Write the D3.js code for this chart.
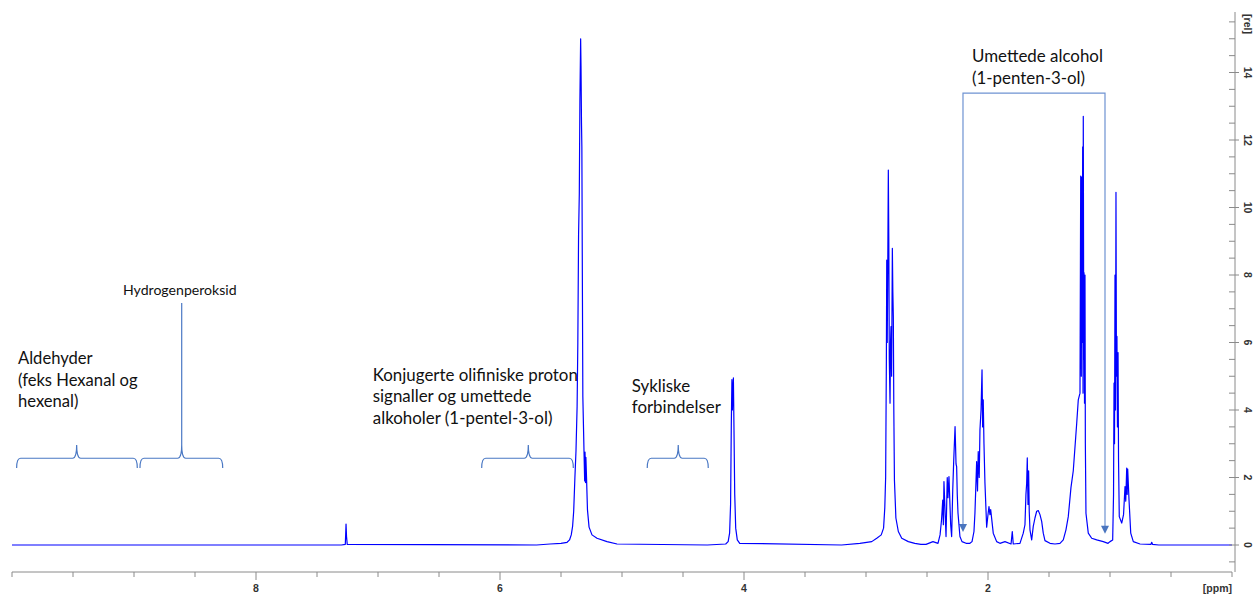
<!DOCTYPE html>
<html>
<head>
<meta charset="utf-8">
<title>1H NMR</title>
<style>
body{margin:0;background:#fff}
svg{display:block}
.ann{font-family:Lato, "Open Sans", sans-serif;fill:#111}
.tick{font-family:"Liberation Sans", Arial, sans-serif;font-weight:bold;font-size:10.5px;fill:#333}
</style>
</head>
<body>
<script src="https://cdn.jsdelivr.net/npm/d3@7"></script>
<script>
// spectrum, traced as [ppm, rel] pairs
var baseline = [[10, 0], [7.4, 0], [5.7, 0], [4.3, 0], [3.2, 0], [2.55, 0.02], [0.6, 0], [0, 0]]
var peakCHCl3 = [[7.30, 0], [7.268, 0.02], [7.265, 0.3], [7.262, 0.62], [7.258, 0.25], [7.252, 0.02]]
var peak53 = [[5.59, 0.03], [5.50, 0.05], [5.45, 0.08], [5.43, 0.15], [5.416, 0.3], [5.405, 0.55],
  [5.396, 1.0], [5.386, 2.0], [5.377, 2.8], [5.368, 4.1], [5.362, 6.0], [5.356, 9.2], [5.350, 10.4],
  [5.345, 13.2], [5.339, 15.0], [5.336, 14.2], [5.332, 12.5], [5.329, 11.8], [5.325, 8.0], [5.321, 4.4],
  [5.311, 2.7], [5.306, 1.9], [5.303, 2.75], [5.299, 1.85], [5.296, 2.6], [5.29, 1.9], [5.283, 1.04],
  [5.27, 0.53], [5.246, 0.3], [5.205, 0.2], [5.123, 0.1], [5.041, 0.03]]
var peak41 = [[4.15, 0.03], [4.13, 0.1], [4.118, 0.35], [4.11, 1.2], [4.104, 3.6], [4.099, 4.9],
  [4.095, 4.0], [4.091, 4.6], [4.087, 4.95], [4.082, 3.4], [4.076, 1.5], [4.068, 0.5], [4.055, 0.15], [4.035, 0.05]]
var peak28 = [[3.05, 0.05], [2.953, 0.1], [2.912, 0.2], [2.875, 0.3], [2.856, 0.5], [2.846, 1.1],
  [2.839, 2.0], [2.833, 5.5], [2.830, 8.44], [2.826, 6.0], [2.822, 8.0], [2.817, 11.11], [2.813, 9.0],
  [2.809, 5.5], [2.803, 4.2], [2.799, 6.0], [2.795, 6.47], [2.790, 5.0], [2.784, 8.79], [2.780, 7.5],
  [2.776, 6.76], [2.772, 4.0], [2.767, 1.93], [2.755, 0.8], [2.735, 0.4], [2.707, 0.2], [2.653, 0.1], [2.60, 0.05]]
var peak23 = [[2.508, 0.02], [2.451, 0.1], [2.41, 0.05], [2.393, 0.3], [2.381, 0.74], [2.371, 1.33],
  [2.366, 0.6], [2.361, 1.88], [2.350, 0.8], [2.344, 0.25], [2.334, 2.0], [2.328, 1.4], [2.320, 2.03],
  [2.306, 0.6], [2.298, 0.25], [2.289, 1.63], [2.281, 2.5], [2.270, 3.51], [2.262, 2.4], [2.257, 2.32],
  [2.252, 1.5], [2.246, 0.95], [2.238, 0.6], [2.230, 0.25], [2.213, 0.1], [2.18, 0.05], [2.148, 0.05],
  [2.131, 0.1], [2.115, 0.4], [2.107, 0.95], [2.093, 2.47], [2.086, 1.6], [2.080, 2.77], [2.072, 2.0],
  [2.066, 3.41], [2.057, 4.0], [2.049, 5.19], [2.044, 3.5], [2.039, 4.3], [2.033, 3.0], [2.025, 1.84],
  [2.011, 0.53], [2.0, 0.9], [1.992, 1.14], [1.984, 0.9], [1.978, 1.05], [1.957, 0.35], [1.929, 0.1],
  [1.902, 0.05], [1.861, 0.1], [1.811, 0.03], [1.801, 0.4], [1.793, 0.03], [1.738, 0.05]]
var peak16 = [[1.711, 0.35], [1.697, 0.6], [1.689, 1.5], [1.683, 1.83], [1.678, 2.58], [1.672, 1.2],
  [1.667, 2.2], [1.662, 1.0], [1.656, 0.45], [1.642, 0.15], [1.629, 0.55], [1.615, 0.8], [1.601, 1.0],
  [1.588, 1.02], [1.574, 0.9], [1.560, 0.7], [1.547, 0.35], [1.533, 0.13], [1.492, 0.05], [1.451, 0.03]]
var peak12 = [[1.41, 0.05], [1.383, 0.15], [1.361, 0.45], [1.342, 0.84], [1.320, 1.7], [1.301, 2.2],
  [1.281, 3.2], [1.273, 3.6], [1.260, 4.3], [1.246, 4.5], [1.240, 10.93], [1.235, 5.0], [1.232, 10.9],
  [1.228, 6.0], [1.224, 11.8], [1.221, 4.5], [1.219, 12.7], [1.215, 5.5], [1.213, 8.07], [1.209, 4.2],
  [1.205, 8.0], [1.202, 3.0], [1.197, 0.94], [1.178, 0.35], [1.150, 0.2], [1.109, 0.15], [1.055, 0.1],
  [1.016, 0.05], [1.0, 0.1], [0.978, 0.15], [0.971, 1.5], [0.967, 4.8], [0.963, 3.0], [0.959, 8.0],
  [0.955, 4.0], [0.951, 10.45], [0.947, 5.0], [0.943, 6.18], [0.939, 3.5], [0.934, 5.7], [0.930, 2.52],
  [0.924, 0.84], [0.904, 0.65], [0.889, 0.9], [0.877, 1.73], [0.871, 1.3], [0.863, 2.28], [0.859, 1.5],
  [0.855, 2.25], [0.844, 1.33], [0.830, 0.35], [0.809, 0.1], [0.754, 0.03], [0.664, 0.02], [0.658, 0.08], [0.652, 0.02]]

var xMajor = [10, 8, 6, 4, 2, 0]
var xLabels = [8, 6, 4, 2]
var yMajor = [0, 2, 4, 6, 8, 10, 12, 14]

// annotations in [ppm, rel]
var braces = [
  {l: 9.962, r: 8.973, c: 9.47},
  {l: 8.951, r: 8.273, c: 8.609, stem: 7.17},
  {l: 6.150, r: 5.399, c: 5.768},
  {l: 4.793, r: 4.293, c: 4.539}
]
var labels = [
  {x: 9.951, y: 5.354, lines: ["Aldehyder", "(feks Hexanal og", "hexenal)"], size: 16.6},
  {x: 9.09, y: 7.41, lines: ["Hydrogenperoksid"], size: 14.1},
  {x: 7.043, y: 4.87, lines: ["Konjugerte olifiniske proton", "signaller og umettede", "alkoholer (1-pentel-3-ol)"], size: 16.9},
  {x: 4.92, y: 4.54, lines: ["Sykliske", "forbindelser"], size: 16.9},
  {x: 2.131, y: 14.31, lines: ["Umettede alcohol", "(1-penten-3-ol)"], size: 16.9}
]
var box = {l: 2.205, r: 1.041, top: 13.39, tipL: 0.385, tipR: 0.33}

var W = 1254, H = 595
var x = d3.scaleLinear().domain([10, 0]).range([12, 1232])
var y = d3.scaleLinear().domain([0, 14]).range([545, 72.5])

var svg = d3.select('body').append('svg').attr('width', W).attr('height', H)

var spectrum = [].concat(baseline, peakCHCl3, peak53, peak41, peak28, peak23, peak16, peak12)
  .sort(function(a, b){ return b[0] - a[0] })

// annotation graphics (under the spectrum)
var yH = y(2.57), yEnd = y(2.28), yTip = y(2.96)
braces.forEach(function(b){
  var xl = x(b.l), xr = x(b.r), xc = x(b.c), r = 4
  var p = 'M' + xl + ',' + yEnd + 'Q' + xl + ',' + yH + ' ' + (xl + r) + ',' + yH +
    'L' + (xc - r) + ',' + yH + 'Q' + xc + ',' + yH + ' ' + xc + ',' + yTip +
    'Q' + xc + ',' + yH + ' ' + (xc + r) + ',' + yH +
    'L' + (xr - r) + ',' + yH + 'Q' + xr + ',' + yH + ' ' + xr + ',' + yEnd
  svg.append('path').attr('d', p).attr('fill', 'none').attr('stroke', '#4a78c4').attr('stroke-width', 1.2)
  if(b.stem) svg.append('line').attr('x1', xc).attr('x2', xc).attr('y1', yTip).attr('y2', y(b.stem))
    .attr('stroke', '#4a78c4').attr('stroke-width', 1.2)
})

svg.append('path')
  .attr('d', 'M' + x(box.l) + ',' + (y(box.tipL) - 7) + 'V' + y(box.top) + 'H' + x(box.r) + 'V' + (y(box.tipR) - 7))
  .attr('fill', 'none').attr('stroke', '#6f93d2').attr('stroke-width', 1.2)
;[[box.l, box.tipL], [box.r, box.tipR]].forEach(function(t){
  var tx = x(t[0]), ty = y(t[1])
  svg.append('path').attr('d', 'M' + (tx - 4) + ',' + (ty - 8) + 'L' + (tx + 4) + ',' + (ty - 8) + 'L' + tx + ',' + ty + 'Z')
    .attr('fill', '#4a75bf')
})

svg.append('path')
  .datum(spectrum)
  .attr('d', d3.line().x(function(d){ return x(d[0]) }).y(function(d){ return y(d[1]) }))
  .attr('fill', 'none').attr('stroke', '#0000ff').attr('stroke-width', 1.2).attr('stroke-linejoin', 'round')

labels.forEach(function(a){
  var t = svg.append('text').attr('class', 'ann').attr('font-size', a.size)
  a.lines.forEach(function(s, i){
    t.append('tspan').attr('x', x(a.x)).attr('y', y(a.y) + i * 21.5).text(s)
  })
})

// x axis
var axisY = 572, axisC = '#8a8a8a'
svg.append('line').attr('x1', x(10)).attr('x2', x(0)).attr('y1', axisY).attr('y2', axisY).attr('stroke', axisC)
d3.range(0, 10.01, 0.5).forEach(function(v){
  var major = xMajor.indexOf(v) >= 0 && v != 10 && v != 0
  svg.append('line').attr('x1', x(v)).attr('x2', x(v)).attr('y1', axisY).attr('y2', axisY + (major ? 8 : 5))
    .attr('stroke', axisC)
})
xLabels.forEach(function(v){
  svg.append('text').attr('class', 'tick').attr('x', x(v)).attr('y', 592).attr('text-anchor', 'middle').text(v)
})
svg.append('text').attr('class', 'tick').attr('x', x(0)).attr('y', 592).attr('text-anchor', 'end').text('[ppm]')

// y axis on the right
var axisX = 1235
svg.append('line').attr('x1', axisX).attr('x2', axisX).attr('y1', 12).attr('y2', axisY).attr('stroke', axisC)
d3.range(-0.5, 15.6, 0.5).forEach(function(v){
  var major = yMajor.indexOf(v) >= 0
  svg.append('line').attr('x1', axisX - 6).attr('x2', axisX + (major ? 4 : 0)).attr('y1', y(v)).attr('y2', y(v))
    .attr('stroke', axisC)
})
yMajor.forEach(function(v){
  svg.append('text').attr('class', 'tick').attr('text-anchor', 'middle')
    .attr('transform', 'translate(1244,' + y(v) + ') rotate(90)').text(v)
})
svg.append('text').attr('class', 'tick').attr('text-anchor', 'middle')
  .attr('transform', 'translate(1244,' + 24 + ') rotate(90)').text('[rel]')
</script>
</body>
</html>
